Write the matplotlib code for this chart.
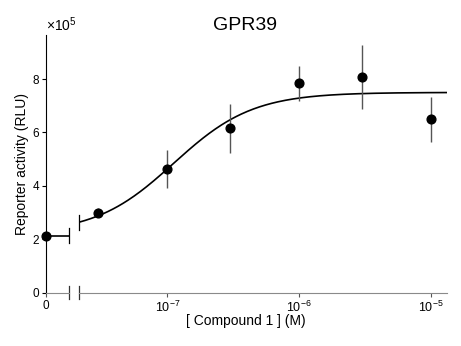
import numpy as np
import matplotlib
matplotlib.use("Agg")
import matplotlib.pyplot as plt

plt.rcParams['font.family'] = ['Liberation Sans', 'DejaVu Sans']
plt.rcParams['mathtext.fontset'] = 'custom'
plt.rcParams['mathtext.rm'] = 'Liberation Sans'
plt.rcParams['mathtext.it'] = 'Liberation Sans:italic'
plt.rcParams['mathtext.bf'] = 'Liberation Sans:bold'

# reporter activity in units of 1e5 RLU
conc = np.array([3e-8, 1e-7, 3e-7, 1e-6, 3e-6, 1e-5])
resp = np.array([3.00, 4.63, 6.16, 7.84, 8.08, 6.49])
resp_err = np.array([0.16, 0.70, 0.92, 0.65, 1.20, 0.84])
zero_resp = 2.13

# four-parameter logistic fit
fit_bottom = 2.2
fit_top = 7.5
fit_ec50 = 1.12e-7
fit_hill = 1.45

xticks = [1e-7, 1e-6, 1e-5]
yticks = [0, 2, 4, 6, 8]


def hill(c):
    return fit_bottom + (fit_top - fit_bottom) / (1 + (fit_ec50 / c) ** fit_hill)


fig = plt.figure(figsize=(4.61, 3.46), dpi=100)
W, H = 461.0, 346.0
bot = 1 - 292.7 / H
hgt = (292.7 - 35) / H
ax0 = fig.add_axes([46 / W, bot, 23.3 / W, hgt])
ax1 = fig.add_axes([78.7 / W, bot, 368 / W, hgt], sharey=ax0)

xmin, xmax = 10 ** -7.673, 10 ** -4.878
ymax = 9.65

# zero-concentration panel
ax0.plot([0, 1], [zero_resp, zero_resp], color='black', lw=1.2, clip_on=False)
ax0.plot([0], [zero_resp], 'o', color='black', ms=6.3, clip_on=False, zorder=5)
ax0.plot([1, 1], [zero_resp - 0.28, zero_resp + 0.28], color='black', lw=0.9,
         clip_on=False)
ax0.set_xlim(0, 1)
ax0.set_ylim(0, ymax)
ax0.set_xticks([0])
ax0.set_xticklabels(['0'])
ax0.set_yticks(yticks)

# log concentration panel
xs = np.logspace(np.log10(xmin), np.log10(xmax), 300)
ax1.plot(xs, hill(xs), color='black', lw=1.2)
ax1.errorbar(conc, resp, yerr=resp_err, fmt='o', color='black', ms=6.3,
             ecolor='#555555', elinewidth=1.0, capsize=0, zorder=5)
y0 = hill(xmin)
ax1.plot([xmin, xmin], [y0 - 0.29, y0 + 0.29], color='black', lw=0.9,
         clip_on=False)
ax1.set_xscale('log')
ax1.set_xlim(xmin, xmax)
ax1.set_xticks(xticks)
ax1.xaxis.set_minor_locator(matplotlib.ticker.NullLocator())
ax1.set_xticklabels([r'$10^{%d}$' % int(round(np.log10(t))) for t in xticks])

for ax in (ax0, ax1):
    for s in ('top', 'right'):
        ax.spines[s].set_visible(False)
    ax.spines['bottom'].set_color('#8a8a8a')
    ax.tick_params(axis='x', direction='out', length=3, width=0.8,
                   color='#555555', labelsize=9, pad=2)
    ax.tick_params(axis='y', direction='out', length=3, width=0.8,
                   labelsize=8.5, pad=2)
    ax.patch.set_visible(False)

ax0.tick_params(axis='x', labelsize=8.5)
ax1.spines['left'].set_visible(False)
ax1.tick_params(axis='y', left=False, labelleft=False)

# axis break marks
for ax, xb in ((ax0, 1.0), (ax1, 0.0)):
    ax.plot([xb, xb], [-0.025, 0.025], transform=ax.transAxes, color='#333333',
            lw=0.9, clip_on=False)

ax0.text(0, 1.005, r'$\times10^5$', transform=ax0.transAxes, fontsize=10,
         ha='left', va='bottom')

fig.text(245 / W, 1 - 25 / H, 'GPR39', fontsize=14, ha='center', va='center')
fig.text(246 / W, 1 - 321 / H, '[ Compound 1 ] (M)', fontsize=10,
         ha='center', va='center')
fig.text(22 / W, 1 - 164 / H, 'Reporter activity (RLU)', fontsize=10,
         ha='center', va='center', rotation=90)

fig.savefig('out.png', dpi=100)
